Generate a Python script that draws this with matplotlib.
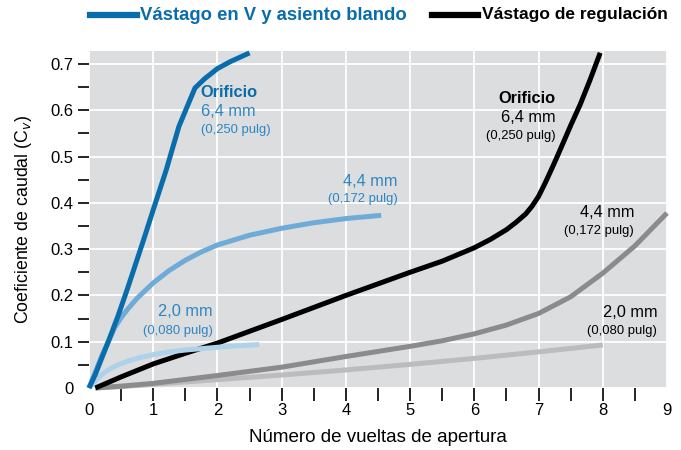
import matplotlib
matplotlib.use("Agg")
import matplotlib.pyplot as plt
from matplotlib.lines import Line2D
import numpy as np

plt.rcParams['font.family'] = ['Liberation Sans', 'DejaVu Sans']

# --- data ---
v64_x = [0.0, 0.1, 0.3, 0.45, 0.6, 0.85, 1.0, 1.2, 1.4, 1.55, 1.65, 1.8, 2.0, 2.2, 2.5]
v64_y = [0.0, 0.03, 0.10, 0.155, 0.215, 0.32, 0.385, 0.47, 0.565, 0.615, 0.648, 0.668, 0.69, 0.705, 0.724]

v44_x = [0.0, 0.1, 0.2, 0.3, 0.4, 0.5, 0.6, 0.75, 1.0, 1.25, 1.5, 1.75, 2.0, 2.5, 3.0, 3.5, 4.0, 4.55]
v44_y = [0.0, 0.035, 0.07, 0.10, 0.13, 0.152, 0.17, 0.194, 0.227, 0.254, 0.276, 0.294, 0.309, 0.33, 0.345, 0.357, 0.366, 0.373]

v20_x = [0.0, 0.1, 0.2, 0.3, 0.45, 0.6, 0.8, 1.0, 1.25, 1.5, 2.0, 2.3, 2.65]
v20_y = [0.0, 0.016, 0.029, 0.039, 0.050, 0.058, 0.066, 0.072, 0.078, 0.082, 0.088, 0.091, 0.094]

r64_x = [0.1, 0.3, 0.5, 1.0, 1.5, 2.0, 3.0, 4.0, 5.0, 5.5, 6.0, 6.25, 6.5, 6.65, 6.8, 6.9, 7.0,
         7.1, 7.2, 7.3, 7.4, 7.5, 7.65, 7.8, 7.96]
r64_y = [0.0, 0.012, 0.024, 0.052, 0.075, 0.097, 0.148, 0.2, 0.25, 0.274, 0.303, 0.321, 0.342, 0.358, 0.376, 0.393, 0.414,
         0.442, 0.472, 0.503, 0.535, 0.567, 0.613, 0.665, 0.724]

r44_x = [0.1, 0.5, 1.0, 2.0, 3.0, 4.0, 5.0, 5.5, 6.0, 6.5, 7.0, 7.5, 8.0, 8.5, 9.0]
r44_y = [0.0, 0.004, 0.010, 0.027, 0.045, 0.068, 0.09, 0.102, 0.117, 0.136, 0.161, 0.197, 0.248, 0.307, 0.378]

r20_x = [0.1, 0.5, 1.0, 2.0, 3.0, 4.0, 5.0, 6.0, 7.0, 8.0]
r20_y = [0.0, 0.003, 0.008, 0.018, 0.028, 0.039, 0.051, 0.064, 0.078, 0.093]

x_labels = ['0', '1', '2', '3', '4', '5', '6', '7', '8', '9']
y_labels = ['0', '0.1', '0.2', '0.3', '0.4', '0.5', '0.6', '0.7']

# --- styles ---
c_dark = '#0a6dab'
c_mid = '#6fabd7'
c_light = '#add2ea'
c_txt_blue = '#2a86c4'
c_black = '#000000'
c_dgray = '#8b8b8d'
c_lgray = '#bcbcbe'
lw = 3.6

fig = plt.figure(figsize=(6.81, 4.5), dpi=100)
ax = fig.add_axes([89/681, 1-388/450, (667-89)/681, (388-51)/450])
ax.set_facecolor('#dcdddf')
ax.set_xlim(0, 9)
ax.set_ylim(0, 0.728)

ax.set_xticks(range(10))
ax.set_xticklabels(x_labels, fontsize=12)
ax.set_xticks(np.arange(0.5, 9, 1.0), minor=True)
ax.set_yticks(np.arange(0, 0.71, 0.1))
ax.set_yticklabels(y_labels, fontsize=12)
ax.set_yticks(np.arange(0.05, 0.7, 0.1), minor=True)

for s in ax.spines.values():
    s.set_visible(False)

ax.tick_params(axis='x', which='both', direction='out', length=9, width=1.2, color='black', pad=2)
ax.tick_params(axis='y', which='both', direction='out', length=8, width=1.2, color='black', pad=3)
xt = ax.xaxis.get_major_ticks()
xt[0].tick1line.set_visible(False)
xt[-1].tick1line.set_visible(False)
ax.yaxis.get_major_ticks()[0].tick1line.set_visible(False)

ax.grid(True, which='major', color='white', linewidth=1.3)
ax.set_axisbelow(True)

kw = dict(linewidth=lw, solid_capstyle='butt', solid_joinstyle='round', clip_on=False)
ax.plot(r20_x, r20_y, color=c_lgray, **kw)
ax.plot(r44_x, r44_y, color=c_dgray, **kw)
ax.plot(r64_x, r64_y, color=c_black, **kw)
ax.plot(v20_x, v20_y, color=c_light, **kw)
ax.plot(v44_x, v44_y, color=c_mid, **kw)
ax.plot(v64_x, v64_y, color=c_dark, **kw)

fs_big = 11.8
fs_small = 9.4

# annotations - V stem
ax.text(1.74, 0.638, 'Orificio', color=c_dark, fontsize=fs_big, fontweight='bold', ha='left', va='center')
ax.text(1.74, 0.598, '6,4 mm', color=c_txt_blue, fontsize=fs_big, ha='left', va='center')
ax.text(1.74, 0.557, '(0,250 pulg)', color=c_txt_blue, fontsize=fs_small, ha='left', va='center')
ax.text(4.8, 0.447, '4,4 mm', color=c_txt_blue, fontsize=fs_big, ha='right', va='center')
ax.text(4.8, 0.408, '(0,172 pulg)', color=c_txt_blue, fontsize=fs_small, ha='right', va='center')
ax.text(1.93, 0.165, '2,0 mm', color=c_txt_blue, fontsize=fs_big, ha='right', va='center')
ax.text(1.93, 0.124, '(0,080 pulg)', color=c_txt_blue, fontsize=fs_small, ha='right', va='center')

# annotations - regulating stem
ax.text(7.26, 0.626, 'Orificio', color='black', fontsize=fs_big, fontweight='bold', ha='right', va='center')
ax.text(7.26, 0.585, '6,4 mm', color='black', fontsize=fs_big, ha='right', va='center')
ax.text(7.26, 0.545, '(0,250 pulg)', color='black', fontsize=fs_small, ha='right', va='center')
ax.text(8.49, 0.380, '4,4 mm', color='black', fontsize=fs_big, ha='right', va='center')
ax.text(8.49, 0.340, '(0,172 pulg)', color='black', fontsize=fs_small, ha='right', va='center')
ax.text(8.85, 0.164, '2,0 mm', color='black', fontsize=fs_big, ha='right', va='center')
ax.text(8.85, 0.123, '(0,080 pulg)', color='black', fontsize=fs_small, ha='right', va='center')

ax.set_xlabel('Número de vueltas de apertura', fontsize=13.5, labelpad=8)
ax.set_ylabel(r'Coeficiente de caudal (C$_v$)', fontsize=12.8, labelpad=12)

# legend at top
fig.add_artist(Line2D([90/681, 137/681], [1-15/450, 1-15/450], color=c_dark, linewidth=4.5))
fig.text(140/681, 1-15/450, 'Vástago en V y asiento blando', color=c_dark, fontsize=13.3,
         fontweight='bold', ha='left', va='center')
fig.add_artist(Line2D([432/681, 478/681], [1-15/450, 1-15/450], color='black', linewidth=4.5))
fig.text(482/681, 1-15/450, 'Vástago de regulación', color='black', fontsize=12.5,
         fontweight='bold', ha='left', va='center')

fig.savefig('out.png', dpi=100)
